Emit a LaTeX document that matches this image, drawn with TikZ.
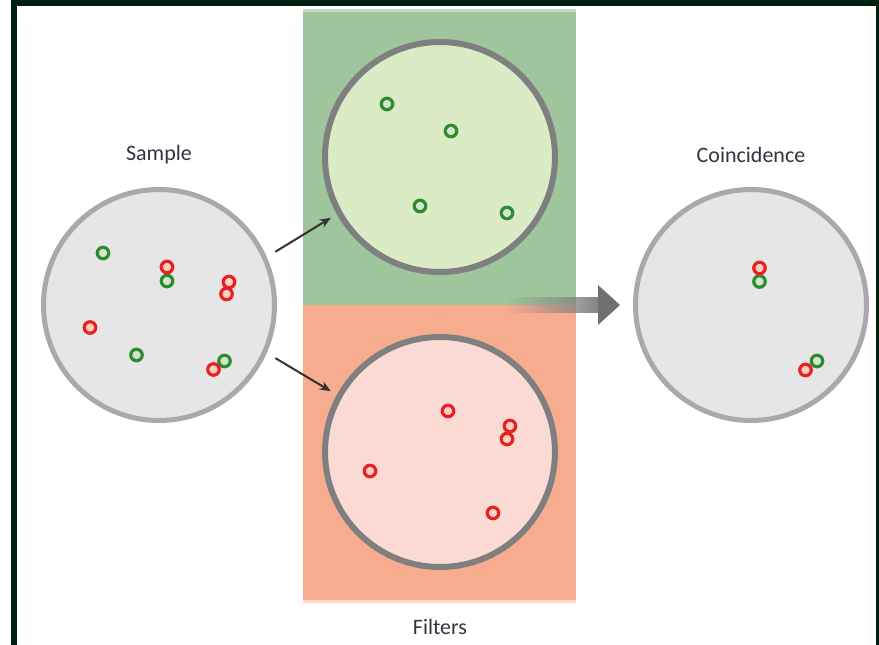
\documentclass[tikz,border=0pt]{standalone}
\usepackage{fontspec}
\setmainfont{Carlito}
\usetikzlibrary{arrows.meta,fadings}
\definecolor{frame}{HTML}{00200F}
\definecolor{greenbg}{HTML}{9EC59B}
\definecolor{greenfill}{HTML}{DAEBC5}
\definecolor{redbg}{HTML}{F8AC8F}
\definecolor{redfill}{HTML}{FADAD3}
\definecolor{dishgray}{HTML}{A9A9AD}
\definecolor{dishfill}{HTML}{E6E6E6}
\definecolor{filterrim}{HTML}{7F7F7F}
\definecolor{ringred}{HTML}{E82020}
\definecolor{ringredin}{HTML}{FAD0C4}
\definecolor{ringgreen}{HTML}{2E8B30}
\definecolor{ringgreenin}{HTML}{D2E6CC}
\definecolor{labeltext}{HTML}{333340}
\tikzset{
  dish/.style={circle, minimum size=231pt, inner sep=0pt, draw=dishgray, fill=dishfill, line width=5pt},
  filterdish/.style={circle, minimum size=230pt, inner sep=0pt, draw=filterrim, line width=6pt},
  rdot/.style={circle, minimum size=11.5pt, inner sep=0pt, draw=ringred, fill=ringredin, line width=3.2pt},
  gdot/.style={circle, minimum size=11.5pt, inner sep=0pt, draw=ringgreen, fill=ringgreenin, line width=3.2pt},
  lbl/.style={font=\fontsize{22}{26}\selectfont, text=labeltext, inner sep=0pt},
  thinarrow/.style={draw=black!80, line width=2pt, -{Stealth[length=11pt,width=9pt]}},
}
\begin{document}
\begin{tikzpicture}[x=1pt,y=-1pt]
\useasboundingbox (0,0) rectangle (879,645);
% frame
\fill[frame] (11,0) rectangle (879,645);
\fill[white] (17,6) rectangle (876,645);
% filter backgrounds
\fill[greenbg] (303,9) rectangle (576,305);
\fill[greenbg!60!white] (303,9) rectangle (576,12);
\fill[redbg] (303,305) rectangle (576,600);
\fill[redbg!50!white] (303,600) rectangle (576,603);
% dishes
\node[dish] (sample) at (159,305) {};
\node[dish] (coinc) at (751,305) {};
\node[filterdish, fill=greenfill] (gfilter) at (440,157) {};
\node[filterdish, fill=redfill] (rfilter) at (440,452) {};
% labels
\node[lbl] (samplelbl) at (159,155) {Sample};
\node[lbl] (coinclbl) at (751,155) {Coincidence};
\node[lbl] (filterslbl) at (440,627) {Filters};
% arrows sample -> filters
\draw[thinarrow, shorten <=10pt, shorten >=7pt] (sample.24) -- (gfilter.209);
\draw[thinarrow, shorten <=10pt, shorten >=7pt] (sample.-24) -- (rfilter.151);
% big arrow to coincidence
\coordinate (bigstart) at (505,305);
\coordinate (bigtip) at (620,305);
\fill[black!50, path fading=west] (505,297) rectangle (600,313);
\fill[black!56] (598,285) -- (bigtip) -- (598,325) -- cycle;
% sample dots
\node[gdot] (s1) at (103,253) {};
\node[gdot] (s2) at (167,281) {};
\node[rdot] (s3) at (167,267) {};
\node[rdot] (s4) at (229,282) {};
\node[rdot] (s5) at (226.5,294) {};
\node[rdot] (s6) at (90,327.5) {};
\node[gdot] (s7) at (136.5,355) {};
\node[gdot] (s8) at (224.5,361) {};
\node[rdot] (s9) at (213.5,369.5) {};
% green filter dots
\node[gdot] (g1) at (387,104) {};
\node[gdot] (g2) at (451,131) {};
\node[gdot] (g3) at (420,206) {};
\node[gdot] (g4) at (507,213) {};
% red filter dots
\node[rdot] (r1) at (448,411) {};
\node[rdot] (r2) at (510,426) {};
\node[rdot] (r3) at (507,439) {};
\node[rdot] (r4) at (370,471) {};
\node[rdot] (r5) at (493,513) {};
% coincidence dots
\node[gdot] (c1) at (759.5,281.5) {};
\node[rdot] (c2) at (759.5,268) {};
\node[gdot] (c3) at (817,361) {};
\node[rdot] (c4) at (805.5,370) {};
\end{tikzpicture}
\end{document}
